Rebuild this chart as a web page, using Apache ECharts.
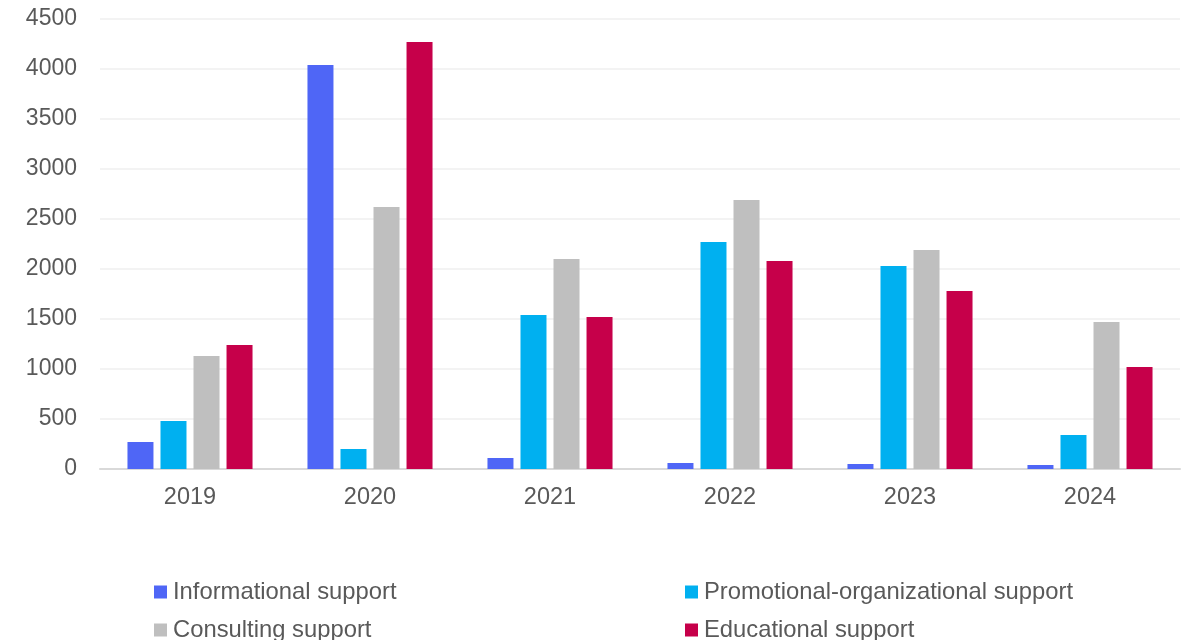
<!DOCTYPE html>
<html>
<head>
<meta charset="utf-8">
<script src="https://cdn.jsdelivr.net/npm/echarts@6/dist/echarts.min.js"></script>
<style>html,body{margin:0;padding:0;background:#fff}#c{width:1184px;height:640px}</style>
</head>
<body>
<div id="c"></div>
<script>
const categories = ['2019', '2020', '2021', '2022', '2023', '2024'];
const informational = [270, 4040, 110, 60, 50, 40];
const promotional = [480, 200, 1540, 2270, 2030, 340];
const consulting = [1130, 2620, 2100, 2690, 2190, 1470];
const educational = [1240, 4270, 1520, 2080, 1780, 1020];
const yTicks = { min: 0, max: 4500, interval: 500 };

const font = '"Liberation Sans", Arial, sans-serif';
const textColor = '#595959';
const chart = echarts.init(document.getElementById('c'), null, { renderer: 'canvas' });
function s(name, data, color) {
  return { name, type: 'bar', data, barWidth: 26, barGap: '27%', itemStyle: { color }, emphasis: { disabled: true } };
}
function lg(name, left, top) {
  return { data: [name], left, top, padding: 0, itemWidth: 13, itemHeight: 13, icon: 'rect', selectedMode: false,
    textStyle: { color: textColor, fontSize: 23.8, fontFamily: font, padding: [0, 0, 0, 1] } };
}
chart.setOption({
  animation: false,
  grid: { left: 100, right: 4, top: 19, bottom: 171 },
  legend: [
    lg('Informational support', 154, 580),
    lg('Consulting support', 154, 618),
    lg('Promotional-organizational support', 685, 580),
    lg('Educational support', 685, 618)
  ],
  xAxis: {
    type: 'category', data: categories,
    axisLine: { lineStyle: { color: '#d9d9d9', width: 2 } },
    axisTick: { show: false },
    axisLabel: { color: textColor, fontSize: 23.5, fontFamily: font, margin: 17 }
  },
  yAxis: {
    type: 'value', min: yTicks.min, max: yTicks.max, interval: yTicks.interval,
    axisLine: { show: false }, axisTick: { show: false },
    splitLine: { lineStyle: { color: '#efefef', width: 1.5 } },
    axisLabel: { color: textColor, fontSize: 23, fontFamily: font, margin: 23, formatter: v => String(v) }
  },
  series: [
    s('Informational support', informational, '#4f66f6'),
    s('Promotional-organizational support', promotional, '#00b0f0'),
    s('Consulting support', consulting, '#bfbfbf'),
    s('Educational support', educational, '#c6004a')
  ]
});
</script>
</body>
</html>
